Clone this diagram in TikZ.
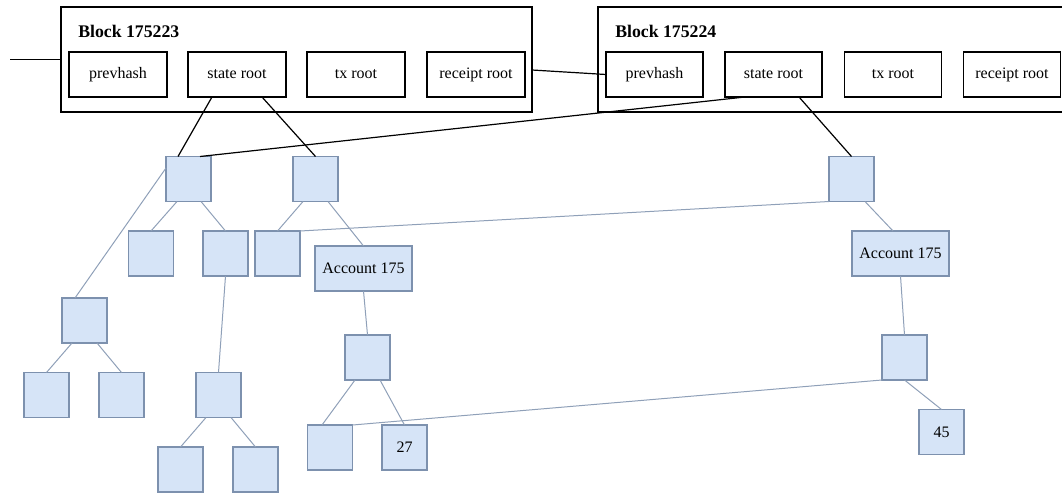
\documentclass[tikz,border=0pt]{standalone}
\usepackage{fontspec}
\setmainfont{Liberation Serif}
\usetikzlibrary{calc}
\definecolor{tfill}{HTML}{D6E4F7}
\definecolor{tline}{HTML}{7D91AE}
\definecolor{tedgec}{HTML}{8FA0B8}
\tikzset{
  blockbox/.style={draw=black, line width=1.1pt, inner sep=0pt, outer sep=0pt},
  fieldbox/.style={draw=black, line width=1.1pt, inner sep=0pt, outer sep=0pt,
    minimum width=73.5pt, minimum height=33.75pt, font=\fontsize{12}{14}\selectfont},
  titletext/.style={inner sep=0pt, anchor=base west, font=\fontsize{13.3}{16}\selectfont\bfseries},
  tnode/.style={draw=tline, fill=tfill, line width=0.9pt, inner sep=0pt, outer sep=0pt,
    minimum width=33.75pt, minimum height=33.75pt, font=\fontsize{12}{14}\selectfont},
  accnode/.style={tnode, minimum width=72.75pt},
  bedge/.style={draw=black, line width=0.9pt},
  tedge/.style={draw=tedgec, line width=0.75pt}
}
\begin{document}
\begin{tikzpicture}[x=0.75pt, y=-0.75pt]
\useasboundingbox (0,0) rectangle (1062,492);
% blocks
\node[blockbox, minimum width=353.25pt, minimum height=78.75pt] (blk1) at (296.5,59.5) {};
\node[blockbox, minimum width=351pt, minimum height=78.75pt] (blk2) at (832,59.5) {};
\node[titletext] (title1) at (78,37.5) {Block 175223};
\node[titletext] (title2) at (615,37.5) {Block 175224};
\node[fieldbox] (p1) at (118,74.5) {prevhash};
\node[fieldbox] (s1) at (237,74.5) {state root};
\node[fieldbox] (t1) at (356,74.5) {tx root};
\node[fieldbox] (r1) at (476,74.5) {receipt root};
\node[fieldbox, minimum width=72.75pt] (p2) at (654.5,74.5) {prevhash};
\node[fieldbox, minimum width=72.75pt] (s2) at (773.5,74.5) {state root};
\node[fieldbox, minimum width=72.75pt] (t2) at (893,74.5) {tx root};
\node[fieldbox, minimum width=72.75pt] (r2) at (1012,74.5) {receipt root};
\coordinate (l0) at (10,59.5);
% tree nodes
\node[tnode] (A) at (188.5,179) {};
\node[tnode] (B) at (315.5,179) {};
\node[tnode] (C1) at (151,253.5) {};
\node[tnode] (C2) at (225.5,253.5) {};
\node[tnode] (B1) at (277.5,253.5) {};
\node[accnode] (Ac1) at (363.5,268.5) {Account 175};
\node[tnode] (D) at (84.5,320.5) {};
\node[tnode] (D1) at (46.5,395) {};
\node[tnode] (D2) at (121.5,395) {};
\node[tnode] (E) at (218.5,395) {};
\node[tnode] (E1) at (180.5,469.5) {};
\node[tnode] (E2) at (255.5,469.5) {};
\node[tnode] (F) at (367.5,357.5) {};
\node[tnode] (F1) at (330,447.5) {};
\node[tnode] (F2) at (404.5,447.5) {27};
\node[tnode] (G) at (851.5,179) {};
\node[accnode] (Ac2) at (900.5,253.5) {Account 175};
\node[tnode] (H) at (904.5,357.5) {};
\node[tnode] (N45) at (941.5,432) {45};
% black connectors
\draw[bedge] (l0) -- (blk1.west);
\draw[bedge] ($(blk1.east)+(0,10.5)$) -- (p2.west);
\draw[bedge] ($(s1.south)+(-25,0)$) -- ($(A.north)+(-10.5,0)$);
\draw[bedge] ($(s1.south)+(25,0)$) -- (B.north);
\draw[bedge] ($(s2.south)+(-28.5,0)$) -- ($(A.north)+(11.5,0)$);
\draw[bedge] ($(s2.south)+(25.5,0)$) -- (G.north);
% tree connectors
\draw[tedge] ($(A.south)+(-11.5,0)$) -- (C1.north);
\draw[tedge] ($(A.south)+(12.5,0)$) -- (C2.north);
\draw[tedge] ($(A.west)+(0,-11)$) -- ($(D.north)+(-9.5,0)$);
\draw[tedge] ($(D.south)+(-12.5,0)$) -- (D1.north);
\draw[tedge] ($(D.south)+(12.5,0)$) -- (D2.north);
\draw[tedge] (C2.south) -- (E.north);
\draw[tedge] ($(E.south)+(-12.5,0)$) -- (E1.north);
\draw[tedge] ($(E.south)+(12.5,0)$) -- (E2.north);
\draw[tedge] ($(B.south)+(-12.5,0)$) -- (B1.north);
\draw[tedge] ($(B.south)+(12.5,0)$) -- (Ac1.north);
\draw[tedge] (Ac1.south) -- (F.north);
\draw[tedge] ($(F.south)+(-12.5,0)$) -- ($(F1.north)+(-8,0)$);
\draw[tedge] ($(F.south)+(12.5,0)$) -- (F2.north);
\draw[tedge] (G.south west) -- (B1.north east);
\draw[tedge] ($(G.south)+(13.5,0)$) -- ($(Ac2.north)+(-7.5,0)$);
\draw[tedge] (Ac2.south) -- (H.north);
\draw[tedge] (H.south) -- (N45.north);
\draw[tedge] (H.south west) -- (F1.north east);
\end{tikzpicture}
\end{document}
